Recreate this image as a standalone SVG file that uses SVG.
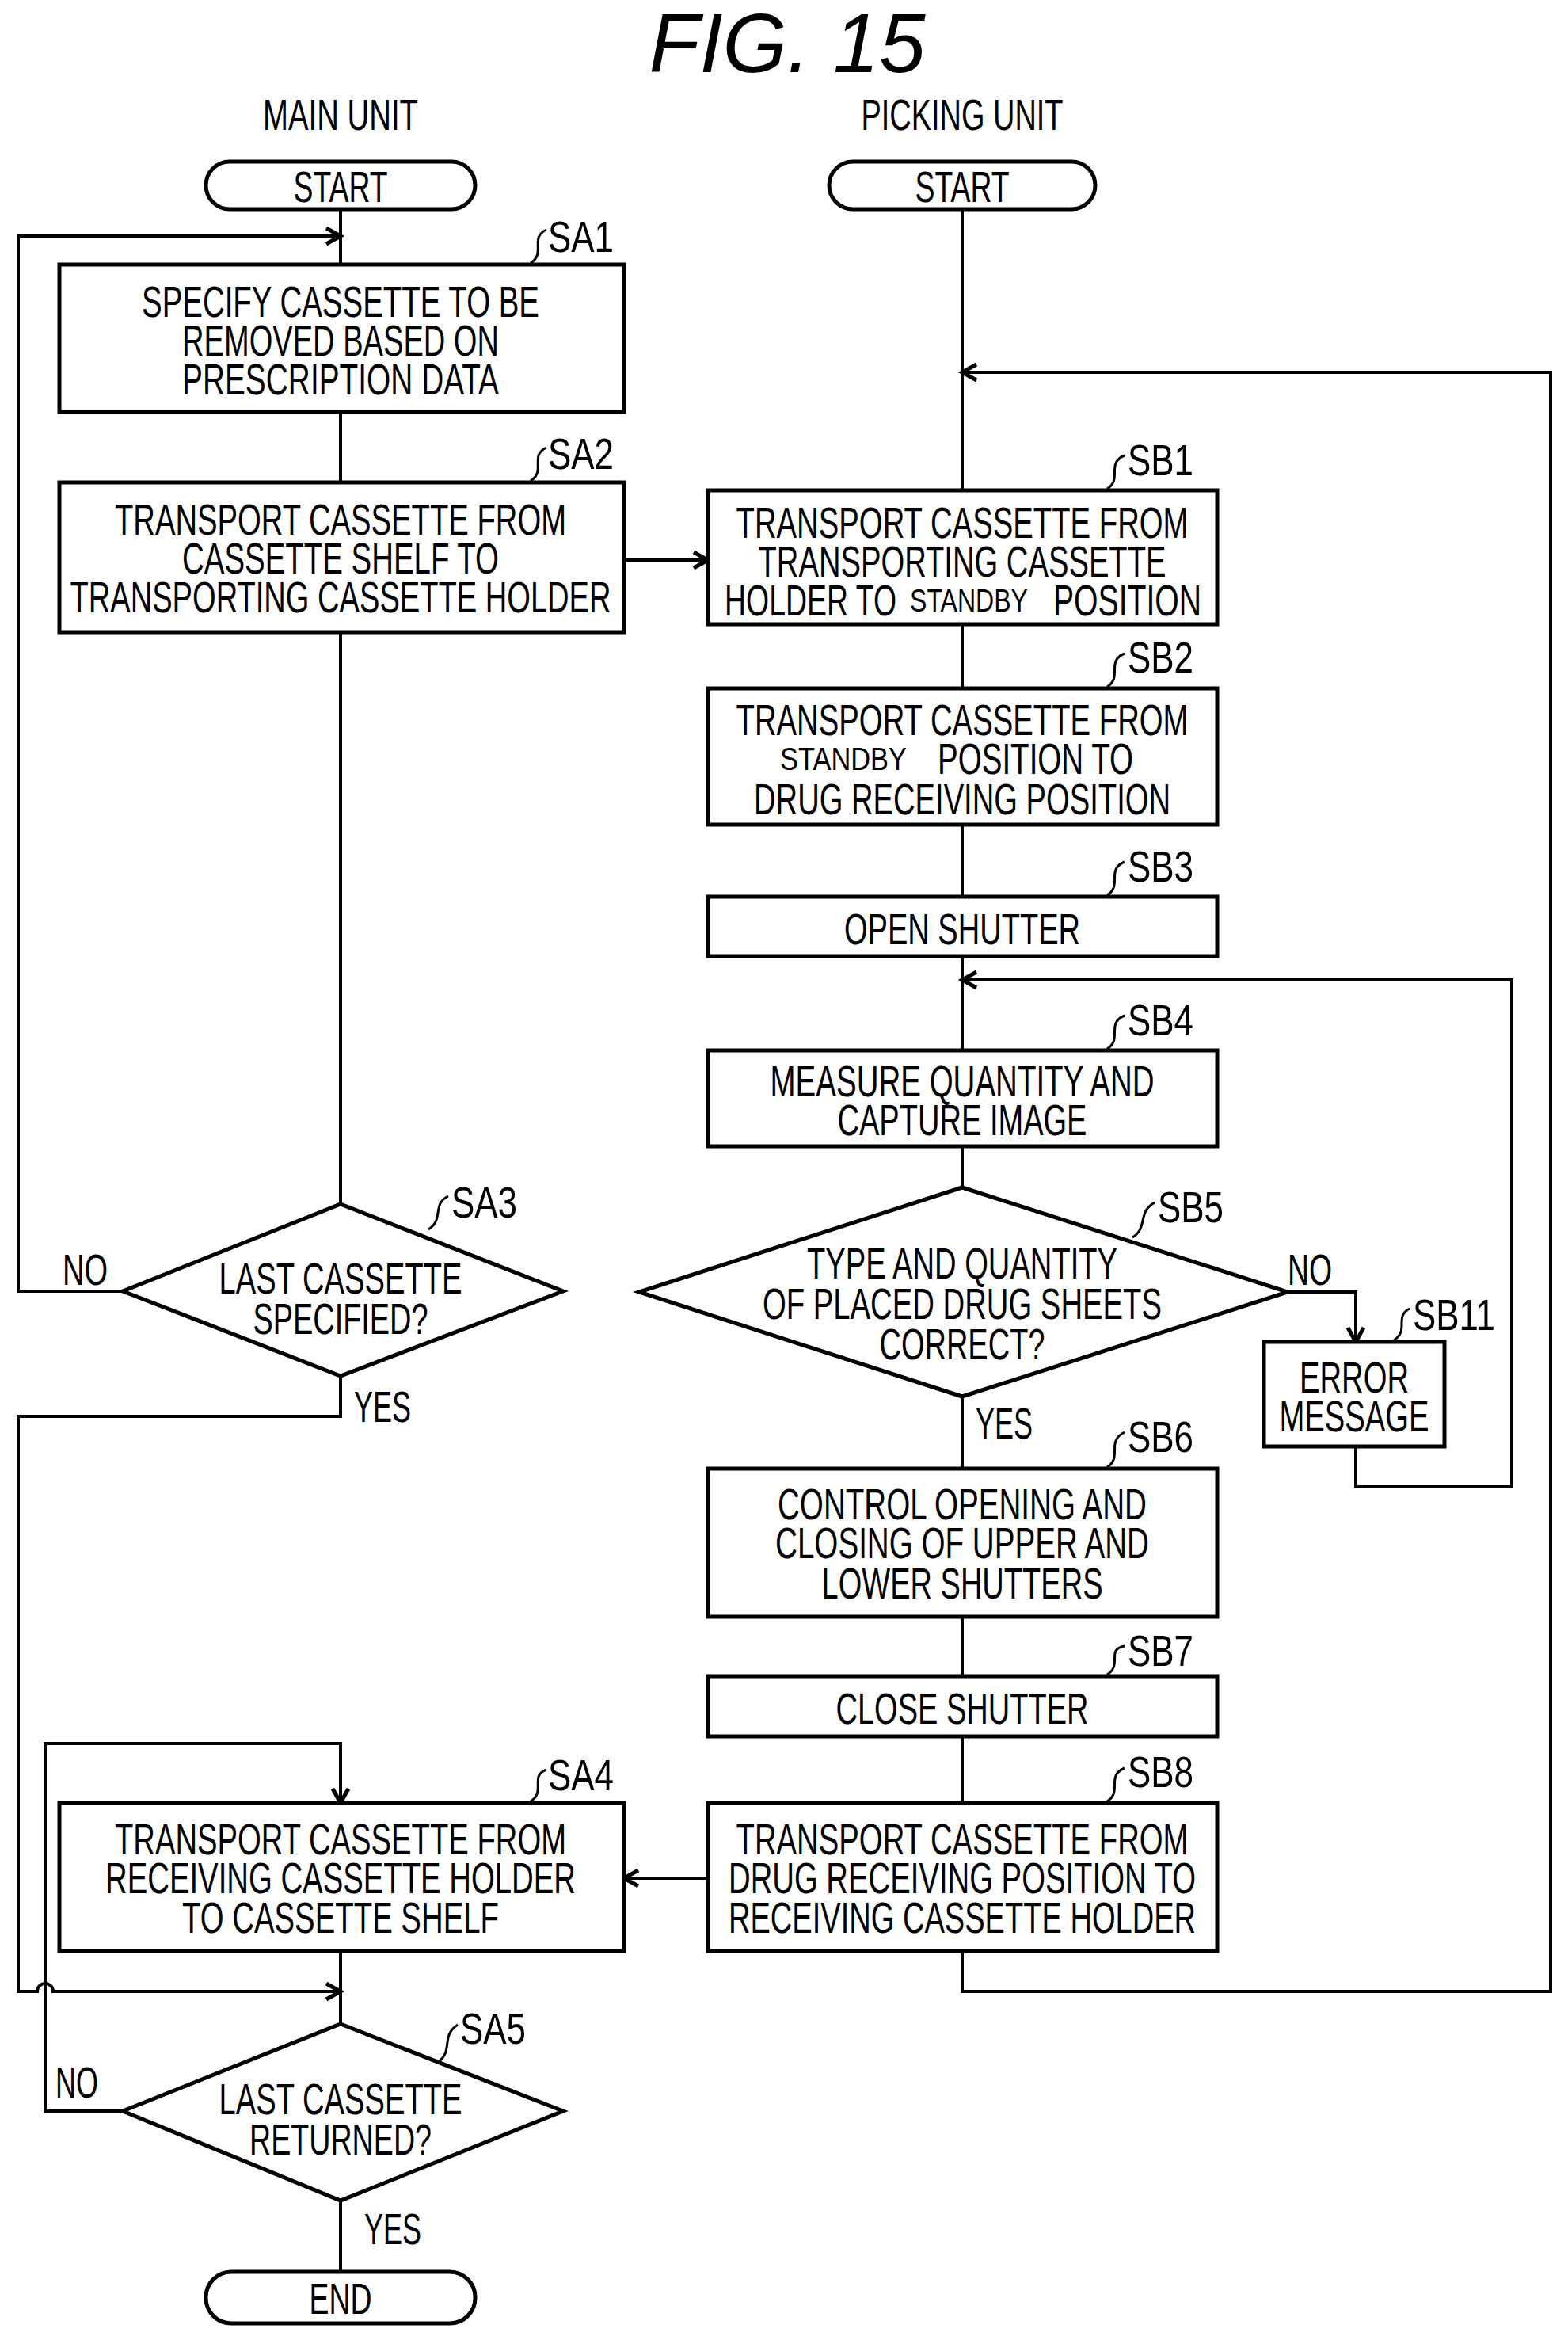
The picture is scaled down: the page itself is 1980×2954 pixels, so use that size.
<svg xmlns="http://www.w3.org/2000/svg" width="1980" height="2954" viewBox="0 0 1980 2954">
<style>
text{font-family:"Liberation Sans",Arial,sans-serif;font-size:56px;fill:#000}
.c{text-anchor:middle}
.s{font-size:40px}
.box{fill:#fff;stroke:#000;stroke-width:5}
.ln{fill:none;stroke:#000;stroke-width:4}
.ld{fill:none;stroke:#000;stroke-width:3}
</style>
<defs>
<marker id="a" markerWidth="30" markerHeight="30" refX="22" refY="12" orient="auto" markerUnits="userSpaceOnUse">
<path d="M4,2 L22,12 L4,22" fill="none" stroke="#000" stroke-width="5"/>
</marker>
</defs>
<text x="994" y="91" class="c" style="font-size:105px;font-style:italic" textLength="349" lengthAdjust="spacingAndGlyphs">FIG. 15</text>
<text x="430" y="164" class="c" textLength="196" lengthAdjust="spacingAndGlyphs">MAIN UNIT</text>
<text x="1215" y="164" class="c" textLength="255" lengthAdjust="spacingAndGlyphs">PICKING UNIT</text>
<g id="connectors">
<path class="ln" d="M430,264 V334"/>
<path class="ln" d="M430,520 V609"/>
<path class="ln" d="M430,798 V1520"/>
<path class="ln" d="M155,1630 H23 V298 H430" marker-end="url(#a)"/>
<path class="ln" d="M788,707 H894" marker-end="url(#a)"/>
<path class="ln" d="M1215,264 V619"/>
<path class="ln" d="M1215,788 V869"/>
<path class="ln" d="M1215,1041 V1132"/>
<path class="ln" d="M1215,1207 V1326"/>
<path class="ln" d="M1215,1447 V1499"/>
<path class="ln" d="M1215,1763 V1854"/>
<path class="ln" d="M1215,2041 V2116"/>
<path class="ln" d="M1215,2192 V2276"/>
<path class="ln" d="M1626,1631 H1712 V1694" marker-end="url(#a)"/>
<path class="ln" d="M1712,1826 V1877 H1909 V1237 H1215" marker-end="url(#a)"/>
<path class="ln" d="M1215,2463 V2514 H1958 V470 H1215" marker-end="url(#a)"/>
<path class="ln" d="M894,2371 H788" marker-end="url(#a)"/>
<path class="ln" d="M430,1737 V1788 H23 V2514 H47 A10,10 0 0 1 67,2514 H430" marker-end="url(#a)"/>
<path class="ln" d="M155,2665 H57 V2201 H430 V2276" marker-end="url(#a)"/>
<path class="ln" d="M430,2463 V2555"/>
<path class="ln" d="M430,2778 V2868"/>
<path class="ld" d="M670,332 C690,320 668,300 690,290"/>
<path class="ld" d="M670,607 C690,595 668,575 690,565"/>
<path class="ld" d="M1398,617 C1418,605 1396,585 1420,575"/>
<path class="ld" d="M1398,867 C1418,855 1396,835 1420,825"/>
<path class="ld" d="M1398,1130 C1418,1118 1396,1098 1420,1088"/>
<path class="ld" d="M1398,1324 C1418,1312 1396,1292 1420,1282"/>
<path class="ld" d="M1430,1562 C1450,1550 1436,1530 1458,1518"/>
<path class="ld" d="M1760,1692 C1780,1680 1760,1662 1780,1652"/>
<path class="ld" d="M1398,1852 C1418,1840 1396,1820 1420,1808"/>
<path class="ld" d="M1398,2114 C1418,2102 1396,2082 1420,2078"/>
<path class="ld" d="M1398,2274 C1418,2262 1396,2242 1420,2232"/>
<path class="ld" d="M670,2274 C690,2262 668,2242 690,2234"/>
<path class="ld" d="M541,1552 C561,1540 545,1520 566,1510"/>
<path class="ld" d="M553,2603 C573,2590 556,2570 578,2556"/>
</g>
<g id="labels">
<text x="692" y="318" textLength="83" lengthAdjust="spacingAndGlyphs">SA1</text>
<text x="692" y="592" textLength="83" lengthAdjust="spacingAndGlyphs">SA2</text>
<text x="1424" y="600" textLength="83" lengthAdjust="spacingAndGlyphs">SB1</text>
<text x="1424" y="849" textLength="83" lengthAdjust="spacingAndGlyphs">SB2</text>
<text x="1424" y="1113" textLength="83" lengthAdjust="spacingAndGlyphs">SB3</text>
<text x="1424" y="1307" textLength="83" lengthAdjust="spacingAndGlyphs">SB4</text>
<text x="1462" y="1543" textLength="83" lengthAdjust="spacingAndGlyphs">SB5</text>
<text x="1784" y="1679" textLength="104" lengthAdjust="spacingAndGlyphs">SB11</text>
<text x="1424" y="1833" textLength="83" lengthAdjust="spacingAndGlyphs">SB6</text>
<text x="1424" y="2103" textLength="83" lengthAdjust="spacingAndGlyphs">SB7</text>
<text x="1424" y="2256" textLength="83" lengthAdjust="spacingAndGlyphs">SB8</text>
<text x="692" y="2260" textLength="83" lengthAdjust="spacingAndGlyphs">SA4</text>
<text x="570" y="1537" textLength="83" lengthAdjust="spacingAndGlyphs">SA3</text>
<text x="581" y="2580" textLength="83" lengthAdjust="spacingAndGlyphs">SA5</text>
<text x="79" y="1622" textLength="57" lengthAdjust="spacingAndGlyphs">NO</text>
<text x="447" y="1795" textLength="72" lengthAdjust="spacingAndGlyphs">YES</text>
<text x="1626" y="1622" textLength="56" lengthAdjust="spacingAndGlyphs">NO</text>
<text x="1232" y="1816" textLength="72" lengthAdjust="spacingAndGlyphs">YES</text>
<text x="70" y="2648" textLength="54" lengthAdjust="spacingAndGlyphs">NO</text>
<text x="460" y="2833" textLength="72" lengthAdjust="spacingAndGlyphs">YES</text>
</g>
<g id="startA"><rect class="box" x="260" y="204" width="340" height="60" rx="30"/><text x="430" y="255" class="c" textLength="119" lengthAdjust="spacingAndGlyphs">START</text></g>
<g id="startB"><rect class="box" x="1047" y="204" width="336" height="60" rx="30"/><text x="1215" y="255" class="c" textLength="119" lengthAdjust="spacingAndGlyphs">START</text></g>
<g id="SA1"><rect class="box" x="75" y="334" width="713" height="186"/>
<text x="430" y="400" class="c" textLength="502" lengthAdjust="spacingAndGlyphs">SPECIFY CASSETTE TO BE</text>
<text x="430" y="449" class="c" textLength="400" lengthAdjust="spacingAndGlyphs">REMOVED BASED ON</text>
<text x="430" y="498" class="c" textLength="400" lengthAdjust="spacingAndGlyphs">PRESCRIPTION DATA</text></g>
<g id="SA2"><rect class="box" x="75" y="609" width="713" height="189"/>
<text x="430" y="675" class="c" textLength="570" lengthAdjust="spacingAndGlyphs">TRANSPORT CASSETTE FROM</text>
<text x="430" y="724" class="c" textLength="400" lengthAdjust="spacingAndGlyphs">CASSETTE SHELF TO</text>
<text x="430" y="773" class="c" textLength="683" lengthAdjust="spacingAndGlyphs">TRANSPORTING CASSETTE HOLDER</text></g>
<g id="SB1"><rect class="box" x="894" y="619" width="643" height="169"/>
<text x="1215" y="679" class="c" textLength="571" lengthAdjust="spacingAndGlyphs">TRANSPORT CASSETTE FROM</text>
<text x="1215" y="728" class="c" textLength="515" lengthAdjust="spacingAndGlyphs">TRANSPORTING CASSETTE</text>
<text x="915" y="777" textLength="217" lengthAdjust="spacingAndGlyphs">HOLDER TO</text>
<text x="1149" y="772" class="s" textLength="149" lengthAdjust="spacingAndGlyphs">STANDBY</text>
<text x="1330" y="777" textLength="187" lengthAdjust="spacingAndGlyphs">POSITION</text></g>
<g id="SB2"><rect class="box" x="894" y="869" width="643" height="172"/>
<text x="1215" y="928" class="c" textLength="571" lengthAdjust="spacingAndGlyphs">TRANSPORT CASSETTE FROM</text>
<text x="985" y="972" class="s" textLength="160" lengthAdjust="spacingAndGlyphs">STANDBY</text>
<text x="1184" y="977" textLength="247" lengthAdjust="spacingAndGlyphs">POSITION TO</text>
<text x="1215" y="1028" class="c" textLength="526" lengthAdjust="spacingAndGlyphs">DRUG RECEIVING POSITION</text></g>
<g id="SB3"><rect class="box" x="894" y="1132" width="643" height="75"/>
<text x="1215" y="1192" class="c" textLength="298" lengthAdjust="spacingAndGlyphs">OPEN SHUTTER</text></g>
<g id="SB4"><rect class="box" x="894" y="1326" width="643" height="121"/>
<text x="1215" y="1384" class="c" textLength="485" lengthAdjust="spacingAndGlyphs">MEASURE QUANTITY AND</text>
<text x="1215" y="1433" class="c" textLength="315" lengthAdjust="spacingAndGlyphs">CAPTURE IMAGE</text></g>
<g id="SB5"><polygon class="box" points="1215,1499 1626,1631 1215,1763 807,1631"/>
<text x="1215" y="1614" class="c" textLength="392" lengthAdjust="spacingAndGlyphs">TYPE AND QUANTITY</text>
<text x="1215" y="1665" class="c" textLength="504" lengthAdjust="spacingAndGlyphs">OF PLACED DRUG SHEETS</text>
<text x="1215" y="1716" class="c" textLength="209" lengthAdjust="spacingAndGlyphs">CORRECT?</text></g>
<g id="SB11"><rect class="box" x="1596" y="1694" width="228" height="132"/>
<text x="1710" y="1758" class="c" textLength="138" lengthAdjust="spacingAndGlyphs">ERROR</text>
<text x="1710" y="1807" class="c" textLength="189" lengthAdjust="spacingAndGlyphs">MESSAGE</text></g>
<g id="SB6"><rect class="box" x="894" y="1854" width="643" height="187"/>
<text x="1215" y="1918" class="c" textLength="466" lengthAdjust="spacingAndGlyphs">CONTROL OPENING AND</text>
<text x="1215" y="1967" class="c" textLength="472" lengthAdjust="spacingAndGlyphs">CLOSING OF UPPER AND</text>
<text x="1215" y="2018" class="c" textLength="355" lengthAdjust="spacingAndGlyphs">LOWER SHUTTERS</text></g>
<g id="SB7"><rect class="box" x="894" y="2116" width="643" height="76"/>
<text x="1215" y="2176" class="c" textLength="319" lengthAdjust="spacingAndGlyphs">CLOSE SHUTTER</text></g>
<g id="SB8"><rect class="box" x="894" y="2276" width="643" height="187"/>
<text x="1215" y="2341" class="c" textLength="571" lengthAdjust="spacingAndGlyphs">TRANSPORT CASSETTE FROM</text>
<text x="1215" y="2390" class="c" textLength="590" lengthAdjust="spacingAndGlyphs">DRUG RECEIVING POSITION TO</text>
<text x="1215" y="2440" class="c" textLength="590" lengthAdjust="spacingAndGlyphs">RECEIVING CASSETTE HOLDER</text></g>
<g id="SA4"><rect class="box" x="75" y="2276" width="713" height="187"/>
<text x="430" y="2341" class="c" textLength="570" lengthAdjust="spacingAndGlyphs">TRANSPORT CASSETTE FROM</text>
<text x="430" y="2390" class="c" textLength="594" lengthAdjust="spacingAndGlyphs">RECEIVING CASSETTE HOLDER</text>
<text x="430" y="2440" class="c" textLength="400" lengthAdjust="spacingAndGlyphs">TO CASSETTE SHELF</text></g>
<g id="SA3"><polygon class="box" points="430,1520 711,1630 430,1737 155,1630"/>
<text x="430" y="1633" class="c" textLength="307" lengthAdjust="spacingAndGlyphs">LAST CASSETTE</text>
<text x="430" y="1684" class="c" textLength="221" lengthAdjust="spacingAndGlyphs">SPECIFIED?</text></g>
<g id="SA5"><polygon class="box" points="430,2555 711,2665 430,2778 155,2665"/>
<text x="430" y="2669" class="c" textLength="307" lengthAdjust="spacingAndGlyphs">LAST CASSETTE</text>
<text x="430" y="2720" class="c" textLength="230" lengthAdjust="spacingAndGlyphs">RETURNED?</text></g>
<g id="END"><rect class="box" x="260" y="2868" width="340" height="65" rx="32"/><text x="430" y="2921" class="c" textLength="79" lengthAdjust="spacingAndGlyphs">END</text></g>
</svg>
